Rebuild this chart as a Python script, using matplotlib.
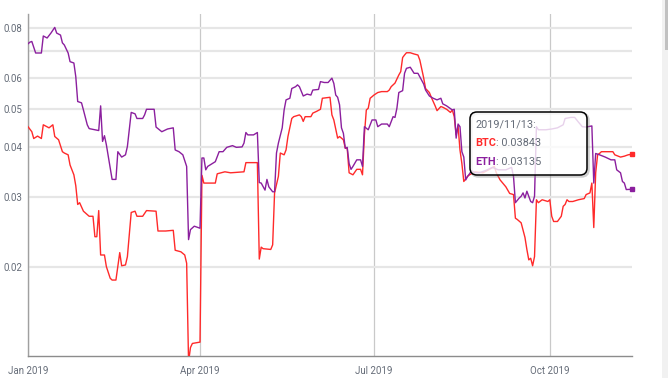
import numpy as np
import matplotlib
matplotlib.use("Agg")
import matplotlib.pyplot as plt
import matplotlib.dates as mdates
from matplotlib.ticker import FixedLocator, FixedFormatter, NullLocator
from matplotlib.patches import FancyBboxPatch, Rectangle

# days counted from 2019-01-01
start = np.datetime64("2019-01-01")

btc_days = [0, 2, 3, 5, 7, 8, 11, 13, 14, 16, 18, 19, 21, 22, 24, 25, 26, 27, 29, 32,
            34, 35, 36, 37, 38, 40, 41, 43, 44, 46, 48, 49, 51, 52, 54, 56, 57, 60, 62, 67,
            68, 72, 76, 77, 80, 82, 83, 84, 85, 86, 90, 91, 92, 98, 99, 103, 106, 113, 114, 120,
            121, 122, 123, 127, 128, 129, 131, 132, 134, 135, 136, 138, 139, 142, 143, 144, 145, 148, 149, 151,
            153, 154, 158, 159, 160, 162, 163, 165, 166, 167, 168, 170, 172, 174, 175, 176, 177, 178, 179, 181,
            183, 185, 188, 189, 190, 192, 194, 195, 196, 197, 198, 200, 202, 204, 205, 207, 208, 210, 211, 213,
            214, 216, 217, 219, 221, 222, 223, 224, 225, 226, 227, 228, 230, 231, 234, 238, 241, 244, 245, 247,
            250, 252, 254, 255, 256, 258, 260, 261, 262, 263, 264, 265, 266, 267, 269, 272, 273, 274, 275, 277,
            279, 280, 281, 282, 283, 285, 288, 291, 292, 294, 295, 296, 297, 298, 299, 300, 306, 307, 310, 312,
            314, 316]
btc_vals = [0.0451, 0.0438, 0.0421, 0.0427, 0.0421, 0.0456, 0.0448, 0.0456, 0.0426, 0.0418,
            0.0390, 0.0387, 0.0383, 0.0361, 0.0341, 0.0320, 0.0287, 0.0290, 0.0276, 0.0268,
            0.0268, 0.0238, 0.0238, 0.0277, 0.0214, 0.0214, 0.0200, 0.0187, 0.0185, 0.0185,
            0.0217, 0.0201, 0.0202, 0.0212, 0.0274, 0.0276, 0.0268, 0.0268, 0.0277, 0.0276,
            0.0246, 0.0246, 0.0247, 0.0220, 0.0218, 0.0214, 0.0204, 0.0115, 0.0125, 0.0128,
            0.0129, 0.0340, 0.0325, 0.0325, 0.0343, 0.0347, 0.0345, 0.0347, 0.0366, 0.0366,
            0.0209, 0.0224, 0.0222, 0.0221, 0.0227, 0.0307, 0.0338, 0.0387, 0.0383, 0.0394,
            0.0426, 0.0473, 0.0478, 0.0483, 0.0478, 0.0465, 0.0478, 0.0478, 0.0488, 0.0493,
            0.0499, 0.0532, 0.0535, 0.0483, 0.0469, 0.0422, 0.0426, 0.0418, 0.0398, 0.0398,
            0.0345, 0.0341, 0.0352, 0.0352, 0.0341, 0.0430, 0.0497, 0.0502, 0.0532, 0.0542,
            0.0550, 0.0553, 0.0553, 0.0558, 0.0569, 0.0581, 0.0609, 0.0621, 0.0674, 0.0684,
            0.0693, 0.0693, 0.0688, 0.0684, 0.0664, 0.0599, 0.0563, 0.0550, 0.0535, 0.0509,
            0.0495, 0.0507, 0.0505, 0.0499, 0.0490, 0.0497, 0.0478, 0.0430, 0.0453, 0.0394,
            0.0364, 0.0328, 0.0338, 0.0341, 0.0347, 0.0345, 0.0351, 0.0358, 0.0345, 0.0331,
            0.0318, 0.0306, 0.0304, 0.0265, 0.0263, 0.0258, 0.0237, 0.0221, 0.0208, 0.0210,
            0.0201, 0.0212, 0.0295, 0.0290, 0.0295, 0.0292, 0.0295, 0.0268, 0.0260, 0.0260,
            0.0268, 0.0284, 0.0287, 0.0295, 0.0292, 0.0292, 0.0295, 0.0297, 0.0304, 0.0307,
            0.0325, 0.0251, 0.0345, 0.0383, 0.0386, 0.0390, 0.0390, 0.0383, 0.0378, 0.0380,
            0.0383, 0.03843]

eth_days = [0, 1, 2, 4, 7, 8, 10, 12, 14, 15, 17, 18, 19, 21, 22, 24, 25, 26, 28, 29,
            31, 32, 37, 38, 39, 40, 41, 43, 44, 46, 47, 49, 51, 52, 54, 56, 57, 60, 61, 62,
            66, 67, 70, 73, 76, 77, 79, 81, 83, 84, 85, 87, 90, 91, 92, 93, 94, 96, 98, 100,
            102, 104, 107, 109, 112, 113, 114, 115, 118, 120, 121, 122, 124, 125, 126, 128, 129, 130, 131, 133,
            134, 135, 137, 138, 140, 141, 142, 144, 146, 148, 149, 152, 153, 155, 157, 159, 160, 161, 162, 163,
            164, 165, 166, 167, 168, 169, 170, 172, 174, 175, 176, 178, 180, 182, 183, 185, 188, 189, 191, 192,
            193, 194, 196, 197, 198, 200, 202, 204, 207, 208, 210, 212, 214, 216, 217, 219, 220, 222, 223, 224,
            225, 226, 227, 228, 229, 230, 231, 232, 234, 236, 239, 243, 246, 250, 253, 254, 255, 257, 258, 259,
            260, 261, 263, 264, 265, 266, 267, 271, 274, 277, 280, 281, 284, 286, 288, 290, 292, 295, 296, 297,
            299, 302, 305, 307, 308, 310, 311, 312, 313, 316]
eth_vals = [0.0730, 0.0737, 0.0740, 0.0692, 0.0692, 0.0764, 0.0755, 0.0777, 0.0803, 0.0777,
            0.0768, 0.0734, 0.0725, 0.0692, 0.0658, 0.0653, 0.0603, 0.0522, 0.0518, 0.0497,
            0.0456, 0.0446, 0.0441, 0.0509, 0.0414, 0.0428, 0.0406, 0.0355, 0.0332, 0.0332,
            0.0390, 0.0378, 0.0383, 0.0402, 0.0490, 0.0486, 0.0473, 0.0473, 0.0483, 0.0499,
            0.0499, 0.0450, 0.0438, 0.0445, 0.0448, 0.0394, 0.0390, 0.0383, 0.0358, 0.0234,
            0.0248, 0.0253, 0.0250, 0.0376, 0.0376, 0.0351, 0.0358, 0.0363, 0.0368, 0.0390,
            0.0390, 0.0400, 0.0404, 0.0400, 0.0401, 0.0410, 0.0436, 0.0430, 0.0430, 0.0436,
            0.0326, 0.0325, 0.0312, 0.0332, 0.0318, 0.0309, 0.0309, 0.0387, 0.0410, 0.0448,
            0.0497, 0.0527, 0.0532, 0.0563, 0.0569, 0.0575, 0.0569, 0.0539, 0.0545, 0.0542,
            0.0558, 0.0560, 0.0586, 0.0583, 0.0583, 0.0598, 0.0580, 0.0542, 0.0535, 0.0512,
            0.0448, 0.0434, 0.0398, 0.0400, 0.0364, 0.0352, 0.0358, 0.0372, 0.0372, 0.0358,
            0.0451, 0.0443, 0.0469, 0.0469, 0.0451, 0.0458, 0.0458, 0.0451, 0.0478, 0.0476,
            0.0502, 0.0550, 0.0556, 0.0615, 0.0633, 0.0637, 0.0615, 0.0615, 0.0578, 0.0558,
            0.0539, 0.0532, 0.0527, 0.0532, 0.0515, 0.0509, 0.0505, 0.0497, 0.0499, 0.0422,
            0.0458, 0.0451, 0.0390, 0.0378, 0.0331, 0.0338, 0.0343, 0.0349, 0.0345, 0.0345,
            0.0349, 0.0356, 0.0351, 0.0351, 0.0356, 0.0338, 0.0290, 0.0298, 0.0301, 0.0307,
            0.0298, 0.0310, 0.0292, 0.0290, 0.0301, 0.0451, 0.0443, 0.0443, 0.0445, 0.0448,
            0.0456, 0.0473, 0.0476, 0.0476, 0.0463, 0.0451, 0.0450, 0.0453, 0.0325, 0.0386,
            0.0383, 0.0378, 0.0372, 0.0372, 0.0351, 0.0345, 0.0328, 0.0325, 0.0313, 0.03135]

y_ticks = [0.02, 0.03, 0.04, 0.05, 0.06, 0.07, 0.08]
y_labels = ["0.02", "0.03", "0.04", "0.05", "0.06", "", "0.08"]

btc_color = "#ff2a2a"
eth_color = "#8b1f9e"
txt_color = "#656c78"

plt.rcParams["font.family"] = ["Roboto", "DejaVu Sans"]

W, H = 668, 378
fig = plt.figure(figsize=(W / 100, H / 100), dpi=100)
ax = fig.add_axes([28 / W, 22 / H, 604 / W, 342 / H])

btc_x = start + np.array(btc_days, dtype="timedelta64[D]")
eth_x = start + np.array(eth_days, dtype="timedelta64[D]")

ax.plot(btc_x, btc_vals, color=btc_color, lw=1.0, zorder=3)
ax.plot(eth_x, eth_vals, color=eth_color, lw=1.0, zorder=3)
ax.plot(btc_x[-1:], btc_vals[-1:], "s", color=btc_color, ms=2.5, zorder=4, clip_on=False)
ax.plot(eth_x[-1:], eth_vals[-1:], "s", color=eth_color, ms=2.5, zorder=4, clip_on=False)

ax.set_yscale("log")
ax.set_ylim(0.0119, 0.0868)
ax.set_xlim(start, btc_x[-1])

ax.yaxis.set_major_locator(FixedLocator(y_ticks))
ax.yaxis.set_major_formatter(FixedFormatter(y_labels))
ax.yaxis.set_minor_locator(NullLocator())
ax.xaxis.set_major_locator(mdates.MonthLocator(bymonth=[1, 4, 7, 10]))
ax.xaxis.set_major_formatter(mdates.DateFormatter("%b %Y"))

ax.tick_params(length=0, labelsize=7, labelcolor=txt_color)
ax.tick_params(axis="x", pad=7)
ax.tick_params(axis="y", pad=4)

ax.grid(axis="y", color="#e6e6e6", lw=1.6, zorder=0)
ax.grid(axis="x", color="#c9c9c9", lw=0.9, zorder=0)

for s in ["top", "right"]:
    ax.spines[s].set_visible(False)
ax.spines["left"].set_color("#a0a0a0")
ax.spines["bottom"].set_color("#8c8c8c")
ax.spines["left"].set_linewidth(1.0)
ax.spines["bottom"].set_linewidth(1.0)

# tooltip box (pixel -> inch coords)
bx, by, bw, bh = 470 / 100, (H - 175) / 100, 117 / 100, 63 / 100
shadow = FancyBboxPatch((bx + 0.015, by - 0.015), bw, bh,
                        boxstyle="round,pad=0,rounding_size=0.07",
                        transform=fig.dpi_scale_trans, facecolor="none",
                        edgecolor="#888888", lw=1.8, alpha=0.4, zorder=5)
box = FancyBboxPatch((bx, by), bw, bh,
                     boxstyle="round,pad=0,rounding_size=0.07",
                     transform=fig.dpi_scale_trans, facecolor=(1, 1, 1, 0.8),
                     edgecolor="black", lw=1.1, zorder=6)
fig.add_artist(shadow)
fig.add_artist(box)

last_day = str(btc_x[-1]).replace("-", "/")
tx = 475 / W
fig.text(tx, (H - 125) / H, last_day + ":", fontsize=7.8, color=txt_color, va="center", zorder=7)
r = fig.canvas.get_renderer()
rows = [("BTC", btc_color, btc_vals[-1], 143), ("ETH", eth_color, eth_vals[-1], 162)]
for name, col, val, ypix in rows:
    t = fig.text(tx, (H - ypix) / H, name, fontsize=7.8, color=col, weight="bold",
                 va="center", zorder=7)
    bb = t.get_window_extent(r)
    fig.text(bb.x1 / W, (H - ypix) / H, ": %.5f" % val, fontsize=7.8, color=txt_color,
             va="center", zorder=7)

# browser scrollbar on the right edge
fig.add_artist(Rectangle((662 / W, 0), 6 / W, 1, transform=fig.transFigure,
                         facecolor="#f1f1f1", edgecolor="none"))
fig.add_artist(Rectangle((664.5 / W, 1 - 50 / H), 3.5 / W, 50 / H, transform=fig.transFigure,
                         facecolor="#c1c1c1", edgecolor="none"))

fig.savefig("out.png", dpi=100)
